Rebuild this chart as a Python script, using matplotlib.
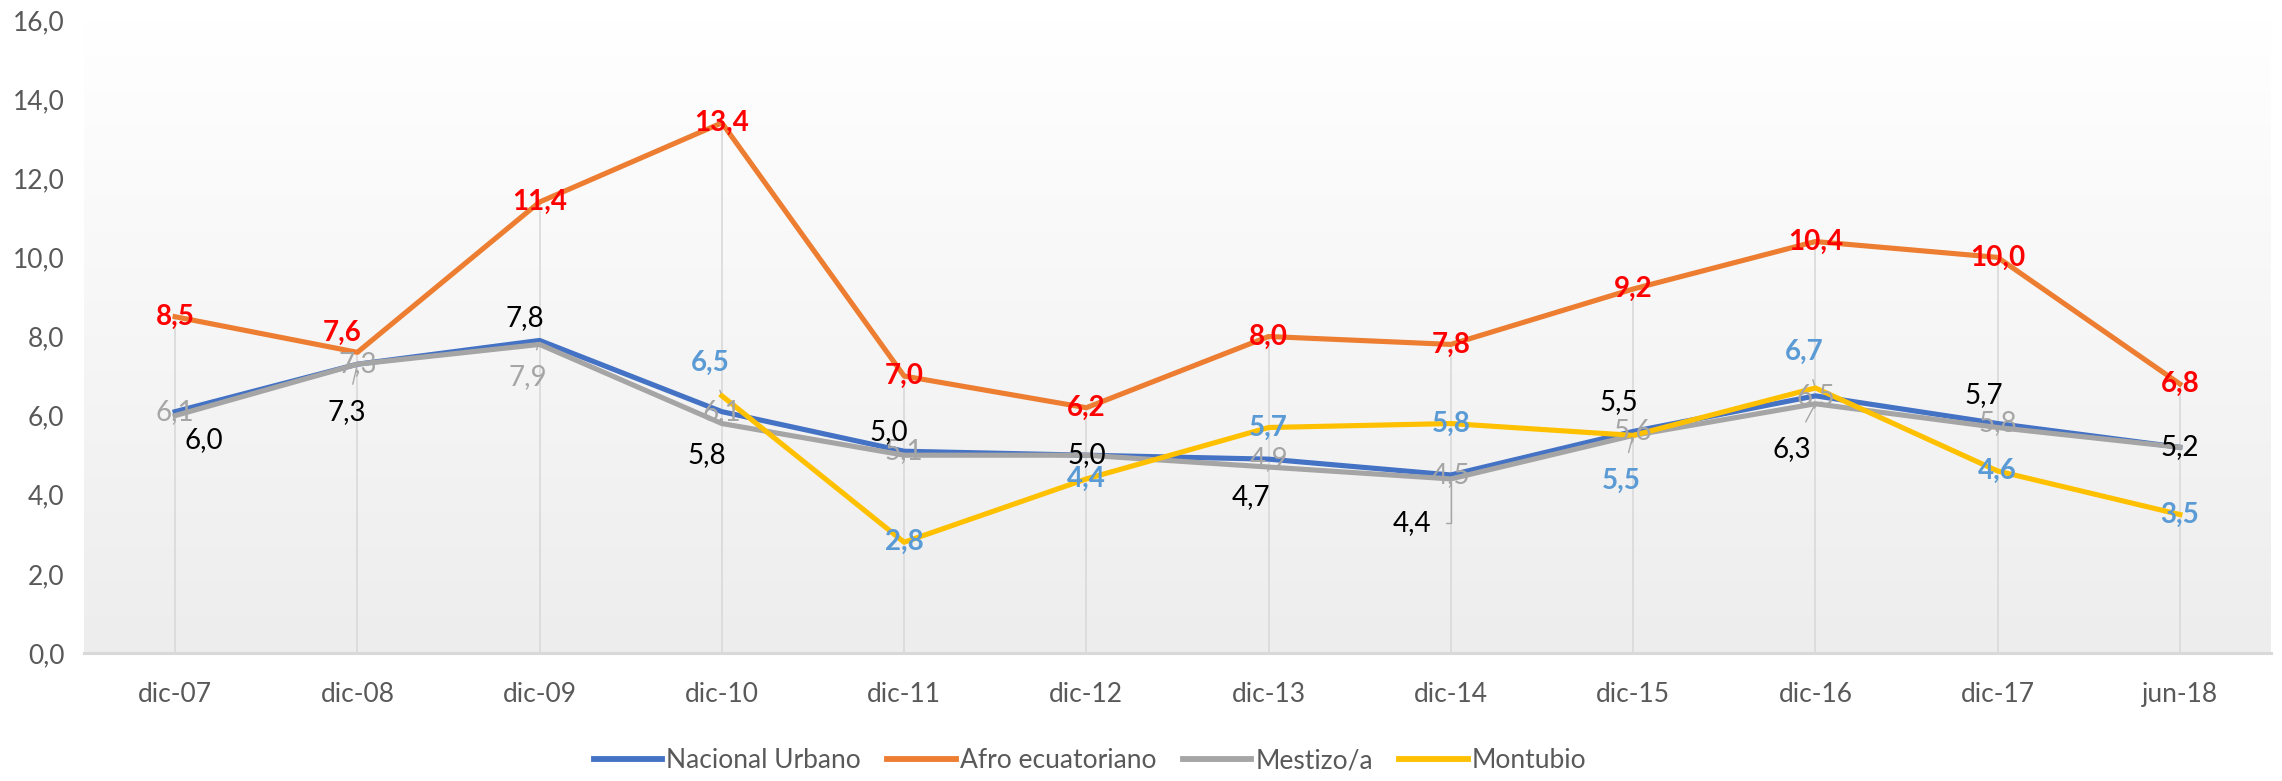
import matplotlib
matplotlib.use('Agg')
import matplotlib.pyplot as plt
import numpy as np

plt.rcParams['font.family'] = ['Lato', 'DejaVu Sans']

# datos
categorias = ['dic-07', 'dic-08', 'dic-09', 'dic-10', 'dic-11', 'dic-12',
              'dic-13', 'dic-14', 'dic-15', 'dic-16', 'dic-17', 'jun-18']
nacional_urbano = [6.1, 7.3, 7.9, 6.1, 5.1, 5.0, 4.9, 4.5, 5.6, 6.5, 5.8, 5.2]
afro_ecuatoriano = [8.5, 7.6, 11.4, 13.4, 7.0, 6.2, 8.0, 7.8, 9.2, 10.4, 10.0, 6.8]
mestizo = [6.0, 7.3, 7.8, 5.8, 5.0, 5.0, 4.7, 4.4, 5.5, 6.3, 5.7, 5.2]
montubio = [None, None, None, 6.5, 2.8, 4.4, 5.7, 5.8, 5.5, 6.7, 4.6, 3.5]

series = [
    ('Nacional Urbano', nacional_urbano, '#4472C4', '#A5A5A5', 'normal'),
    ('Afro ecuatoriano', afro_ecuatoriano, '#ED7D31', '#FF0000', 'bold'),
    ('Mestizo/a', mestizo, '#A5A5A5', '#000000', 'normal'),
    ('Montubio', montubio, '#FFC000', '#5B9BD5', 'bold'),
]

# desplazamiento de etiquetas (pixeles)
offsets = {
    ('Nacional Urbano', 2): (-12, -37),
    ('Afro ecuatoriano', 1): (-15, 19),
    ('Mestizo/a', 0): (29, -24),
    ('Mestizo/a', 1): (-11, -48),
    ('Mestizo/a', 2): (-15, 26),
    ('Mestizo/a', 3): (-15, -32),
    ('Mestizo/a', 4): (-15, 23),
    ('Mestizo/a', 6): (-18, -30),
    ('Mestizo/a', 7): (-39, -44),
    ('Mestizo/a', 8): (-14, 33),
    ('Mestizo/a', 9): (-24, -45),
    ('Mestizo/a', 10): (-14, 32),
    ('Montubio', 3): (-12, 33),
    ('Montubio', 8): (-12, -45),
    ('Montubio', 9): (-11, 36),
}
leaders = [('Nacional Urbano', 2), ('Mestizo/a', 1), ('Mestizo/a', 7),
           ('Mestizo/a', 9), ('Montubio', 3), ('Montubio', 8), ('Montubio', 9)]

fig = plt.figure(figsize=(22.82, 7.81), dpi=100)
ax = fig.add_axes([84 / 2282, 1 - 653 / 781, (2271 - 84) / 2282, (653 - 20) / 781])

x = np.arange(len(categorias))
ax.set_xlim(-0.5, len(categorias) - 0.5)
ax.set_ylim(0, 16)

# fondo degradado
grad = np.linspace(0, 1, 256).reshape(-1, 1)
cmap = matplotlib.colors.LinearSegmentedColormap.from_list('bg', ['#EDEDED', '#FFFFFF'])
ax.imshow(grad, extent=[-0.5, len(categorias) - 0.5, 0, 16], origin='lower',
          aspect='auto', cmap=cmap, zorder=0)

# lineas de caida
tops = [max(v for v in col if v is not None)
        for col in zip(nacional_urbano, afro_ecuatoriano, mestizo, montubio)]
ax.vlines(x, 0, tops, color='#D9D9D9', lw=1.2, zorder=1)

for name, vals, color, _, _ in series:
    y = np.array([np.nan if v is None else v for v in vals])
    ax.plot(x, y, color=color, lw=3.7, label=name, zorder=3, solid_joinstyle='round')

for name, vals, _, lcolor, weight in series:
    for i, v in enumerate(vals):
        if v is None:
            continue
        dx, dy = offsets.get((name, i), (0, 0))
        arrow = None
        if (name, i) in leaders:
            arrow = dict(arrowstyle='-', color='#A6A6A6', lw=1.0, shrinkA=9, shrinkB=2)
            if (name, i) == ('Mestizo/a', 7):
                arrow['connectionstyle'] = 'angle,angleA=0,angleB=90,rad=0'
        ax.annotate(f'{v:.1f}'.replace('.', ','), (x[i], v), xytext=(dx, dy),
                    textcoords='offset pixels', ha='center', va='center',
                    fontsize=20, color=lcolor, fontweight=weight, zorder=5,
                    arrowprops=arrow)

ax.set_xticks(x)
ax.set_xticklabels(categorias)
ax.set_yticks(np.arange(0, 17, 2))
ax.set_yticklabels([f'{t:.1f}'.replace('.', ',') for t in np.arange(0, 17, 2)])
ax.tick_params(axis='both', length=0, labelsize=19, labelcolor='#595959')
ax.tick_params(axis='x', pad=21)
ax.tick_params(axis='y', pad=14)
for s in ['top', 'right', 'left']:
    ax.spines[s].set_visible(False)
ax.spines['bottom'].set_color('#D9D9D9')
ax.spines['bottom'].set_linewidth(2.2)
ax.spines['bottom'].set_zorder(2)

leg = fig.legend(loc='center', bbox_to_anchor=(1090 / 2282, 1 - 761 / 781), ncol=4,
                 frameon=False, fontsize=19, handlelength=2.6, handletextpad=0.15,
                 columnspacing=1.0, labelcolor='#595959')
for line in leg.get_lines():
    line.set_linewidth(4.2)

fig.savefig('out.png', dpi=100)
